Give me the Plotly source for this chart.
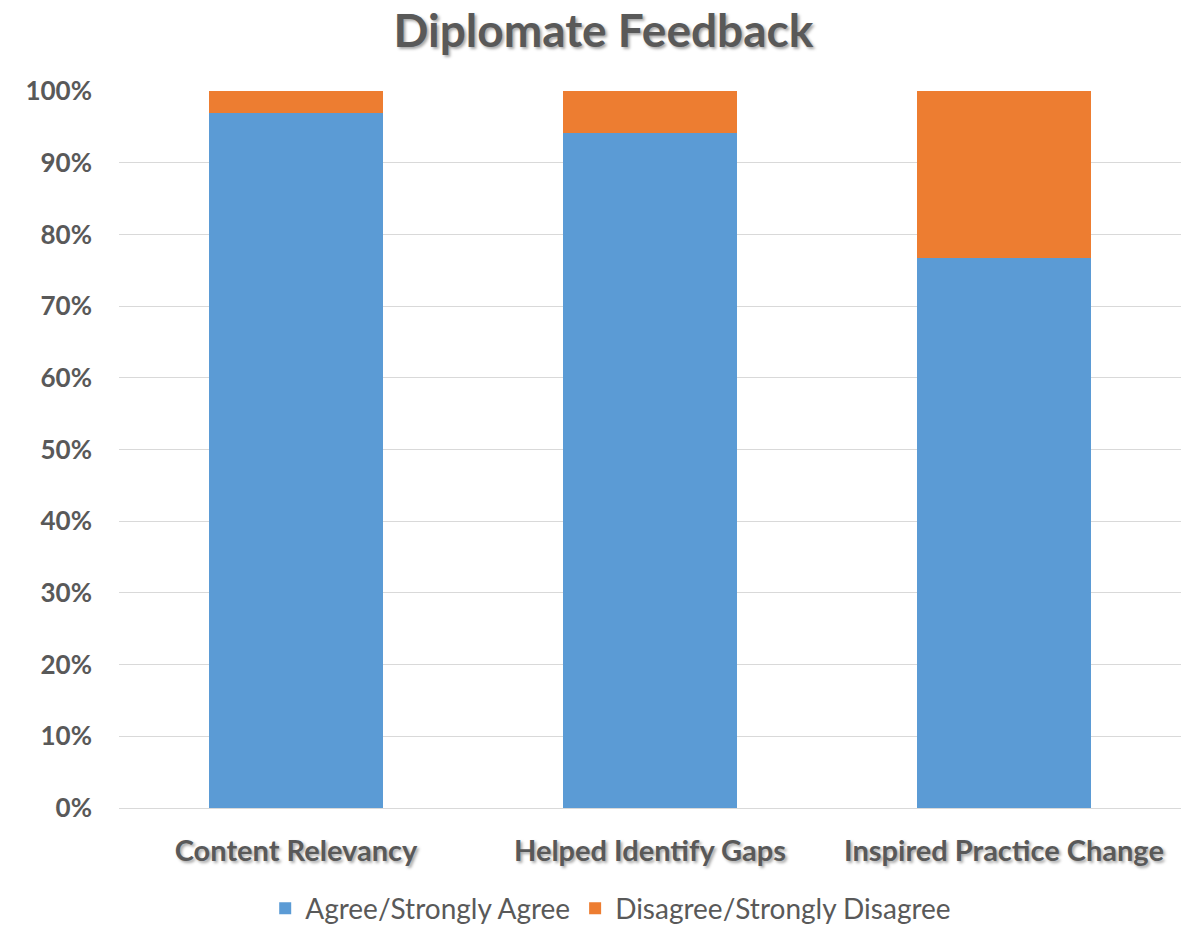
import plotly.graph_objects as go

categories = ["Content Relevancy", "Helped Identify Gaps", "Inspired Practice Change"]
agree = [0.97, 0.941, 0.767]
disagree = [0.03, 0.059, 0.233]
series_names = ["Agree/Strongly Agree", "Disagree/Strongly Disagree"]
tick_vals = [0, 0.1, 0.2, 0.3, 0.4, 0.5, 0.6, 0.7, 0.8, 0.9, 1.0]
tick_text = ["0%", "10%", "20%", "30%", "40%", "50%", "60%", "70%", "80%", "90%", "100%"]

FONT = "Lato, 'Open Sans', sans-serif"
GRAY = "#595959"
SHADOW = "2px 2px 3px rgba(0,0,0,0.35)"

fig = go.Figure()
fig.add_trace(go.Bar(x=categories, y=agree, name=series_names[0],
                     marker=dict(color="#5B9BD5", line=dict(width=0))))
fig.add_trace(go.Bar(x=categories, y=disagree, name=series_names[1],
                     marker=dict(color="#ED7D31", line=dict(width=0))))

fig.update_layout(
    barmode="stack",
    bargap=0.506,
    width=1183, height=927,
    margin=dict(l=119, r=2, t=91, b=119, autoexpand=False),
    paper_bgcolor="white", plot_bgcolor="white",
    title=dict(text="<b>Diplomate Feedback</b>", x=0.51, xanchor="center",
               y=0.967, yanchor="middle",
               font=dict(family=FONT, size=46, color=GRAY, shadow=SHADOW)),
    xaxis=dict(tickfont=dict(family=FONT, size=29, color=GRAY, shadow=SHADOW, weight="bold"),
               showgrid=False, showline=True, linecolor="#D9D9D9", linewidth=1,
               ticks="", ticklabelstandoff=17, automargin=False),
    yaxis=dict(range=[0, 1], tickvals=tick_vals, ticktext=tick_text,
               tickfont=dict(family=FONT, size=26, color=GRAY, weight="bold"),
               showgrid=True, gridcolor="#D9D9D9", gridwidth=1, zeroline=False,
               showline=False, ticks="", ticklabelstandoff=26, automargin=False),
    legend=dict(orientation="h", x=0.463, xanchor="center", y=0.02, yanchor="middle",
                yref="container",
                font=dict(family=FONT, size=28, color=GRAY), traceorder="normal",
                itemsizing="constant", itemwidth=30),
    showlegend=True,
)

fig.write_html("out.html")
